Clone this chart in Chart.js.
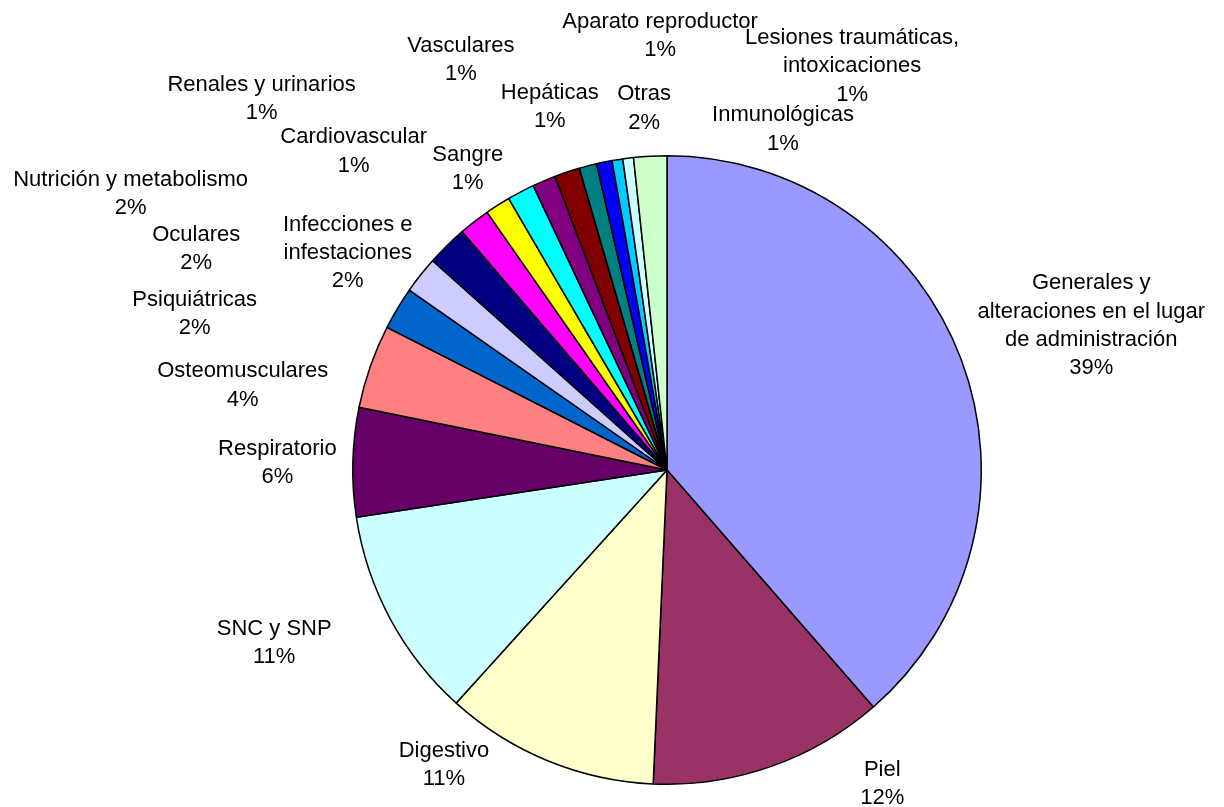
<!DOCTYPE html>
<html>
<head>
<meta charset="utf-8">
<script src="https://cdn.jsdelivr.net/npm/chart.js@4"></script>
<style>
  body { margin: 0; background: #fff; }
  canvas { display: block; }
</style>
</head>
<body>
<canvas id="myChart" width="1224" height="807"></canvas>
<script>
// categories, clockwise from 12 o'clock
let categories = [
    "Generales y\nalteraciones en el lugar\nde administración",
    "Piel",
    "Digestivo",
    "SNC y SNP",
    "Respiratorio",
    "Osteomusculares",
    "Psiquiátricas",
    "Oculares",
    "Infecciones e\ninfestaciones",
    "Nutrición y metabolismo",
    "Cardiovascular",
    "Sangre",
    "Renales y urinarios",
    "Hepáticas",
    "Vasculares",
    "Aparato reproductor",
    "Lesiones traumáticas,\nintoxicaciones",
    "Inmunológicas",
    "Otras"
]
// share of notifications (%)
let values = [38.6, 12.1, 11.0, 10.9, 5.6, 4.3, 2.2, 1.9, 2.1, 1.6, 1.3, 1.4, 1.2, 1.3, 0.9, 0.8, 0.55, 0.55, 1.7]

let colors = ["#9999FF", "#993366", "#FFFFCC", "#CCFFFF", "#660066", "#FF8080", "#0066CC", "#CCCCFF", "#000080",
    "#FF00FF", "#FFFF00", "#00FFFF", "#800080", "#800000", "#008080", "#0000FF", "#00CCFF", "#CCFFFF", "#CCFFCC"]

// where each label sits, as offset from the pie centre in units of the radius
let labelSpots = [
    [1.350, -0.459], [0.685, 0.998], [-0.710, 0.939], [-1.250, 0.551], [-1.240, -0.022],
    [-1.350, -0.269], [-1.503, -0.497], [-1.498, -0.704], [-1.016, -0.691], [-1.707, -0.879],
    [-0.997, -1.014], [-0.634, -0.957], [-1.290, -1.180], [-0.373, -1.156], [-0.656, -1.304],
    [-0.022, -1.382], [0.589, -1.285], [0.369, -1.084], [-0.073, -1.151]
]

let total = values.reduce((a, b) => a + b, 0)

const pieLabels = {
    id: 'pieLabels',
    afterDatasetsDraw(chart) {
        let ctx = chart.ctx
        let arc = chart.getDatasetMeta(0).data[0]
        let cx = arc.x
        let cy = arc.y
        let r = arc.outerRadius
        ctx.save()
        ctx.font = '22px "Liberation Sans", Arial, sans-serif'
        ctx.fillStyle = '#000'
        ctx.textAlign = 'center'
        ctx.textBaseline = 'middle'
        categories.forEach((name, i) => {
            let pct = Math.round(values[i] / total * 100) + "%"
            let lines = (name + "\n" + pct).split("\n")
            let x = cx + labelSpots[i][0] * r
            let y = cy + labelSpots[i][1] * r
            let lh = 28.3
            lines.forEach((line, j) => {
                ctx.fillText(line, x, y + (j - (lines.length - 1) / 2) * lh)
            })
        })
        ctx.restore()
    }
}

const ctx = document.getElementById('myChart')
const myChart = new Chart(ctx, {
    type: 'pie',
    data: {
        labels: categories,
        datasets: [{
            data: values,
            backgroundColor: colors,
            borderColor: '#000',
            borderWidth: 1.5
        }]
    },
    options: {
        responsive: false,
        animation: false,
        events: [],
        layout: {
            padding: { top: 155, bottom: 22, left: 352, right: 242 }
        },
        plugins: {
            legend: { display: false },
            tooltip: { enabled: false }
        }
    },
    plugins: [pieLabels]
})
</script>
</body>
</html>
